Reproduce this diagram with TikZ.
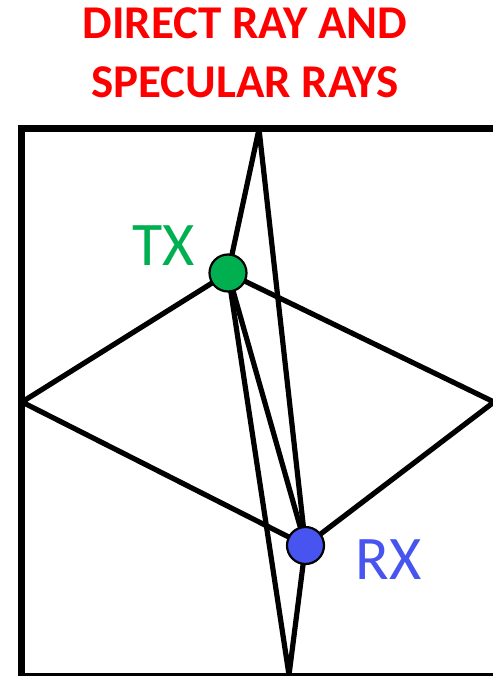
\documentclass[tikz,border=0pt]{standalone}
\usepackage{fontspec}
\setmainfont{Carlito}
\definecolor{titlered}{RGB}{255,0,0}
\definecolor{txgreen}{RGB}{0,176,80}
\definecolor{rxblue}{RGB}{72,84,240}
\begin{document}
\begin{tikzpicture}[x=1pt,y=-1pt,
  ray/.style={line width=5.2pt,line join=round,line cap=round},
  wall/.style={line width=6.8pt,line join=miter},
  station/.style={circle,draw=black,line width=2.2pt,minimum size=37pt,inner sep=0pt},
  ttl/.style={font=\bfseries\fontsize{47}{59}\selectfont,text=titlered,inner sep=0pt,anchor=base},
  lbl/.style={font=\fontsize{62}{62}\selectfont,inner sep=0pt,anchor=base}]
\useasboundingbox (0,0) rectangle (492,676);
\node[ttl] (title1) at (245,38.5) {DIRECT RAY AND};
\node[ttl] (title2) at (245,97.5) {SPECULAR RAYS};
\coordinate (txc) at (228,273);
\coordinate (rxc) at (305.5,545.5);
\coordinate (ptop) at (259,129);
\coordinate (pleft) at (22,402);
\coordinate (pright) at (494,402);
\coordinate (pbot) at (289,675);
\draw[ray] (txc) -- (rxc);
\draw[ray] (txc) -- (ptop) -- (rxc);
\draw[ray] (txc) -- (pleft) -- (rxc);
\draw[ray] (txc) -- (pright) -- (rxc);
\draw[ray] (txc) -- (pbot) -- (rxc);
\draw[wall] (21.5,676.8) -- (21.5,128.5) -- (496,128.5);
\draw[wall] (21.5,676.8) -- (496,676.8);
\node[station,fill=txgreen] (tx) at (txc) {};
\node[station,fill=rxblue] (rx) at (rxc) {};
\node[lbl,text=txgreen] (txl) at (163.5,265) {TX};
\node[lbl,text=rxblue] (rxl) at (388.5,579) {RX};
\end{tikzpicture}
\end{document}
